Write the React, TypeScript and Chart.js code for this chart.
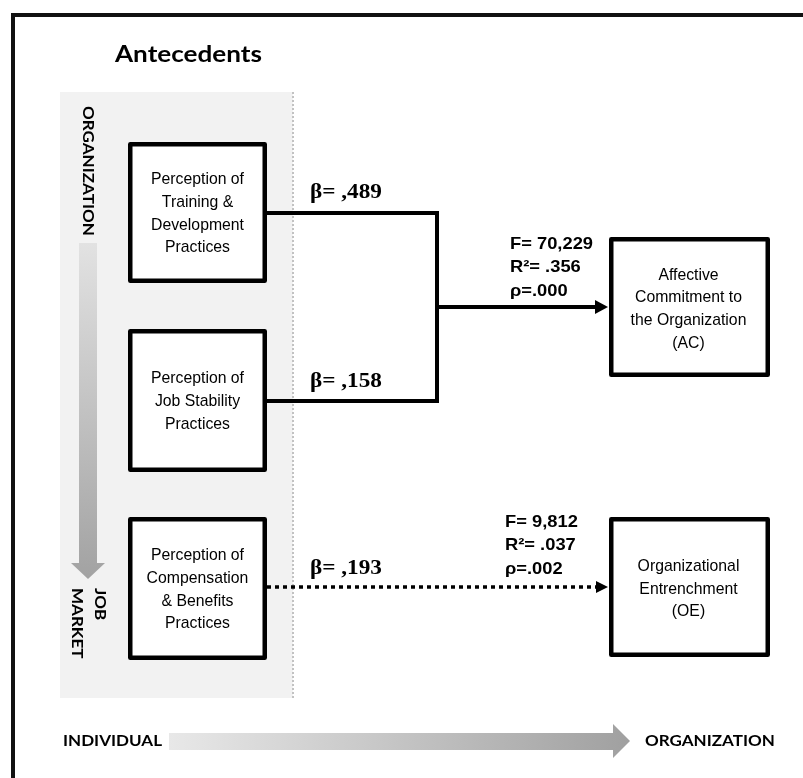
import { useEffect, useRef } from "react";
import { Chart, registerables } from "chart.js";

Chart.register(...registerables);

// ---------- content ----------
const titleText = "Antecedents";
const predictorLabels = [
  ["Perception of", "Training &", "Development", "Practices"],
  ["Perception of", "Job Stability", "Practices"],
  ["Perception of", "Compensation", "& Benefits", "Practices"],
];
const betaValues = [",489", ",158", ",193"];
const outcomeLabels = [
  ["Affective", "Commitment to", "the Organization", "(AC)"],
  ["Organizational", "Entrenchment", "(OE)"],
];
const fValues = ["70,229", "9,812"];
const r2Values = [".356", ".037"];
const pValues = [".000", ".002"];
const verticalAxisLabels = [["ORGANIZATION"], ["JOB", "MARKET"]];
const horizontalAxisLabels = ["INDIVIDUAL", "ORGANIZATION"];

// ---------- layout (diagram units = pixels) ----------
const W = 803;
const H = 778;
const predBoxX = [128, 267];
const predBoxY = [
  [142, 283],
  [329, 472],
  [517, 660],
];
const outBoxX = [609, 770];
const outBoxY = [
  [237, 377],
  [517, 657],
];
const junctionX = 437;
const arrowTipX = 608;

function App() {
  const ref = useRef<HTMLCanvasElement | null>(null);

  useEffect(() => {
    if (!ref.current) return;
    const midY = (r: number[]) => (r[0] + r[1]) / 2;
    const y1 = Math.round(midY(predBoxY[0]));
    const y2 = Math.round(midY(predBoxY[1]));
    const y3 = Math.round(midY(predBoxY[2])) - 1;
    const yAC = Math.round(midY(outBoxY[0]));
    const yOE = Math.round(midY(outBoxY[1]));

    const txt = (
      ctx: CanvasRenderingContext2D,
      s: string,
      x: number,
      y: number,
      font: string,
      sx: number,
      align: CanvasTextAlign,
      rot = 0
    ) => {
      ctx.save();
      ctx.font = font;
      ctx.fillStyle = "#000";
      ctx.translate(x, y);
      if (rot) ctx.rotate(rot);
      ctx.scale(sx, 1);
      ctx.textAlign = align;
      ctx.textBaseline = "middle";
      ctx.fillText(s, 0, 0);
      ctx.restore();
    };
    const fit = (ctx: CanvasRenderingContext2D, font: string, ref: string, w: number) => {
      ctx.save();
      ctx.font = font;
      const m = ctx.measureText(ref).width;
      ctx.restore();
      return m > 0 ? w / m : 1;
    };

    const backdrop = {
      id: "backdrop",
      beforeDatasetsDraw(chart: any) {
        const ctx: CanvasRenderingContext2D = chart.ctx;
        const sx = chart.scales.x;
        const sy = chart.scales.y;
        const X = (v: number) => sx.getPixelForValue(v);
        const Y = (v: number) => sy.getPixelForValue(v);
        ctx.save();
        // frame
        ctx.strokeStyle = "#111";
        ctx.lineWidth = 4;
        ctx.beginPath();
        ctx.moveTo(X(13), Y(H + 10));
        ctx.lineTo(X(13), Y(15));
        ctx.lineTo(X(W + 10), Y(15));
        ctx.stroke();
        // grey panel
        ctx.fillStyle = "#f2f2f2";
        ctx.fillRect(X(60), Y(92), X(293) - X(60), Y(698) - Y(92));
        ctx.strokeStyle = "#c2c2c2";
        ctx.lineWidth = 2;
        ctx.setLineDash([2, 2]);
        ctx.beginPath();
        ctx.moveTo(X(293), Y(92));
        ctx.lineTo(X(293), Y(698));
        ctx.stroke();
        ctx.setLineDash([]);
        // vertical gradient arrow
        let g = ctx.createLinearGradient(0, Y(243), 0, Y(579));
        g.addColorStop(0, "#e2e2e2");
        g.addColorStop(1, "#a2a2a2");
        ctx.fillStyle = g;
        ctx.beginPath();
        ctx.moveTo(X(79), Y(243));
        ctx.lineTo(X(97), Y(243));
        ctx.lineTo(X(97), Y(563));
        ctx.lineTo(X(105), Y(563));
        ctx.lineTo(X(88), Y(579));
        ctx.lineTo(X(71), Y(563));
        ctx.lineTo(X(79), Y(563));
        ctx.closePath();
        ctx.fill();
        // horizontal gradient arrow
        g = ctx.createLinearGradient(X(169), 0, X(630), 0);
        g.addColorStop(0, "#e8e8e8");
        g.addColorStop(1, "#a0a0a0");
        ctx.fillStyle = g;
        ctx.beginPath();
        ctx.moveTo(X(169), Y(733));
        ctx.lineTo(X(613), Y(733));
        ctx.lineTo(X(613), Y(724));
        ctx.lineTo(X(630), Y(741));
        ctx.lineTo(X(613), Y(758));
        ctx.lineTo(X(613), Y(750));
        ctx.lineTo(X(169), Y(750));
        ctx.closePath();
        ctx.fill();
        ctx.restore();
      },
      afterDatasetsDraw(chart: any) {
        const ctx: CanvasRenderingContext2D = chart.ctx;
        const sx = chart.scales.x;
        const sy = chart.scales.y;
        const X = (v: number) => sx.getPixelForValue(v);
        const Y = (v: number) => sy.getPixelForValue(v);
        ctx.save();
        // boxes
        const box = (x0: number, x1: number, y0: number, y1b: number) => {
          ctx.fillStyle = "#fff";
          ctx.fillRect(X(x0), Y(y0), X(x1) - X(x0), Y(y1b) - Y(y0));
          ctx.strokeStyle = "#000";
          ctx.lineWidth = 4.5;
          ctx.lineJoin = "round";
          ctx.strokeRect(X(x0) + 2.25, Y(y0) + 2.25, X(x1) - X(x0) - 4.5, Y(y1b) - Y(y0) - 4.5);
        };
        predBoxY.forEach((r) => box(predBoxX[0], predBoxX[1], r[0], r[1]));
        outBoxY.forEach((r) => box(outBoxX[0], outBoxX[1], r[0], r[1]));
        // arrowheads
        ctx.fillStyle = "#000";
        const head = (tip: number, y: number, len: number, half: number) => {
          ctx.beginPath();
          ctx.moveTo(X(tip), Y(y));
          ctx.lineTo(X(tip - len), Y(y - half));
          ctx.lineTo(X(tip - len), Y(y + half));
          ctx.closePath();
          ctx.fill();
        };
        head(arrowTipX, yAC, 13, 7);
        head(arrowTipX, yOE, 12, 6);

        // fonts
        const boxFont = '17px "Liberation Sans", Arial, sans-serif';
        const statFont = 'bold 16.5px "Liberation Sans", Arial, sans-serif';
        const betaFont = 'bold 20px "Liberation Serif", "Times New Roman", serif';
        const titleFont = 'bold 22px Lato, "Open Sans", sans-serif';
        const capsFont = 'bold 15px Lato, "Open Sans", sans-serif';
        const boxS = fit(ctx, boxFont, "Perception of", 93);
        const statS = fit(ctx, statFont, "F= 70,229", 83);
        const betaS = fit(ctx, betaFont, "\u03b2= ,489", 72);
        const titleS = fit(ctx, titleFont, titleText, 147);
        const capsS = fit(ctx, capsFont, horizontalAxisLabels[0], 99);

        txt(ctx, titleText, X(115), Y(55), titleFont, titleS, "left");

        const lh = 22.7;
        const pcx = (predBoxX[0] + predBoxX[1]) / 2;
        predictorLabels.forEach((lines, i) => {
          const cy = midY(predBoxY[i]) + 1;
          lines.forEach((l, j) => {
            txt(ctx, l, X(pcx), Y(cy + (j - (lines.length - 1) / 2) * lh), boxFont, boxS, "center");
          });
        });
        const ocx = (outBoxX[0] + outBoxX[1]) / 2 - 1;
        outcomeLabels.forEach((lines, i) => {
          const cy = midY(outBoxY[i]) + 2;
          lines.forEach((l, j) => {
            txt(ctx, l, X(ocx), Y(cy + (j - (lines.length - 1) / 2) * lh), boxFont, boxS, "center");
          });
        });

        const betaY = [y1 - 20, y2 - 19, y3 - 19];
        betaValues.forEach((b, i) => {
          txt(ctx, "\u03b2= " + b, X(310), Y(betaY[i]), betaFont, betaS, "left");
        });

        const statX = [510, 505];
        const statY0 = [244, 522];
        fValues.forEach((f, i) => {
          txt(ctx, "F= " + f, X(statX[i]), Y(statY0[i]), statFont, statS, "left");
          txt(ctx, "R\u00b2= " + r2Values[i], X(statX[i]), Y(statY0[i] + 23.5), statFont, statS, "left");
          txt(ctx, "\u03c1=" + pValues[i], X(statX[i]), Y(statY0[i] + 47), statFont, statS, "left");
        });

        // axis captions
        txt(ctx, horizontalAxisLabels[0], X(63), Y(741), capsFont, capsS, "left");
        txt(ctx, horizontalAxisLabels[1], X(645), Y(741), capsFont, capsS, "left");
        txt(ctx, verticalAxisLabels[0][0], X(88), Y(106), capsFont, capsS, "left", Math.PI / 2);
        txt(ctx, verticalAxisLabels[1][0], X(100), Y(588), capsFont, capsS, "left", Math.PI / 2);
        txt(ctx, verticalAxisLabels[1][1], X(77), Y(588), capsFont, capsS, "left", Math.PI / 2);
        ctx.restore();
      },
    };

    const chart = new Chart(ref.current, {
      type: "scatter",
      data: {
        datasets: [
          {
            data: [
              { x: predBoxX[1], y: y1 },
              { x: junctionX, y: y1 },
              { x: junctionX, y: y2 },
              { x: predBoxX[1], y: y2 },
            ],
            showLine: true,
            borderColor: "#000",
            borderWidth: 4,
            pointRadius: 0,
            borderJoinStyle: "miter",
            tension: 0,
          } as any,
          {
            data: [
              { x: junctionX, y: yAC },
              { x: arrowTipX - 10, y: yAC },
            ],
            showLine: true,
            borderColor: "#000",
            borderWidth: 4,
            pointRadius: 0,
          },
          {
            data: [
              { x: predBoxX[1], y: yOE },
              { x: arrowTipX - 10, y: yOE },
            ],
            showLine: true,
            borderColor: "#000",
            borderWidth: 3.5,
            borderDash: [4, 4],
            pointRadius: 0,
          },
        ],
      },
      options: {
        responsive: false,
        animation: false,
        events: [],
        layout: { padding: 0 },
        plugins: { legend: { display: false }, tooltip: { enabled: false } },
        scales: {
          x: { type: "linear", min: 0, max: W, display: false },
          y: { type: "linear", min: 0, max: H, reverse: true, display: false },
        },
      },
      plugins: [backdrop],
    });
    return () => chart.destroy();
  }, []);

  return (
    <div style={{ position: "fixed", left: 0, top: 0, width: W, height: H, background: "#fff" }}>
      <canvas ref={ref} width={W} height={H} style={{ display: "block", width: W, height: H }} />
    </div>
  );
}

export default App;
